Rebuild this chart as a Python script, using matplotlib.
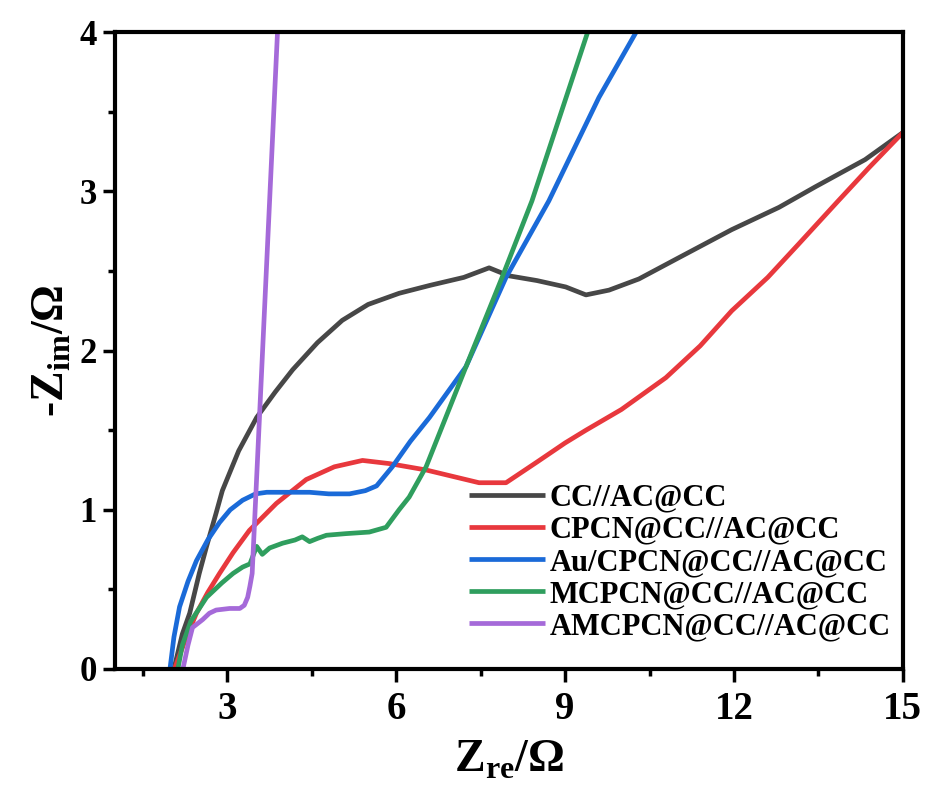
import matplotlib
matplotlib.use('Agg')
import matplotlib.pyplot as plt
from matplotlib.ticker import MultipleLocator

plt.rcParams['font.family'] = ['Liberation Serif', 'DejaVu Serif']
plt.rcParams['font.weight'] = 'bold'
plt.rcParams['mathtext.fontset'] = 'custom'
plt.rcParams['mathtext.rm'] = 'Liberation Serif:bold'
plt.rcParams['mathtext.bf'] = 'Liberation Serif:bold'

labels = ['CC//AC@CC', 'CPCN@CC//AC@CC', 'Au/CPCN@CC//AC@CC',
          'MCPCN@CC//AC@CC', 'AMCPCN@CC//AC@CC']
colors = ['#474747', '#e8383d', '#1a6ad8', '#2f9e5e', '#a56ad9']

# CC//AC@CC
x_cc = [2.05, 2.2, 2.33, 2.5, 2.63, 2.8, 2.91, 3.2, 3.52, 3.85, 4.16, 4.6, 5.04,
        5.5, 6.05, 6.6, 7.2, 7.65, 8.0, 8.5, 9.01, 9.37, 9.78, 10.31, 11.0,
        11.96, 12.8, 13.45, 14.33, 15.0]
y_cc = [0, 0.22, 0.35, 0.6, 0.77, 0.98, 1.12, 1.37, 1.58, 1.74, 1.88, 2.05, 2.19,
        2.29, 2.36, 2.41, 2.46, 2.52, 2.47, 2.44, 2.40, 2.35, 2.38, 2.45, 2.58,
        2.76, 2.90, 3.03, 3.20, 3.37]

# CPCN@CC//AC@CC
x_cp = [2.06, 2.25, 2.45, 2.65, 2.86, 3.1, 3.39, 3.87, 4.4, 4.9, 5.4, 5.88, 6.53,
        7.0, 7.47, 7.95, 8.5, 9.0, 9.37, 10.0, 10.79, 11.4, 11.96, 12.6, 13.15,
        13.85, 14.4, 15.0]
y_cp = [0, 0.18, 0.35, 0.48, 0.60, 0.73, 0.87, 1.04, 1.19, 1.27, 1.31, 1.29, 1.25,
        1.21, 1.17, 1.17, 1.30, 1.42, 1.50, 1.63, 1.83, 2.03, 2.25, 2.46, 2.67,
        2.94, 3.15, 3.37]

# Au/CPCN@CC//AC@CC
x_au = [1.98, 2.05, 2.15, 2.3, 2.45, 2.65, 2.86, 3.05, 3.27, 3.5, 3.7, 4.1, 4.46,
        4.8, 5.17, 5.45, 5.65, 5.93, 6.25, 6.59, 7.24, 7.95, 8.71, 9.6, 10.26]
y_au = [0, 0.2, 0.39, 0.55, 0.68, 0.81, 0.92, 1.0, 1.06, 1.10, 1.11, 1.11, 1.11,
        1.10, 1.10, 1.12, 1.15, 1.27, 1.43, 1.58, 1.90, 2.46, 2.94, 3.59, 4.0]

# MCPCN@CC//AC@CC
x_m = [2.12, 2.2, 2.35, 2.5, 2.63, 2.9, 3.1, 3.27, 3.4, 3.52, 3.62, 3.75, 3.98,
       4.2, 4.33, 4.46, 4.6, 4.76, 5.1, 5.52, 5.82, 6.05, 6.23, 6.53, 7.24, 7.88,
       8.41, 9.4]
y_m = [0, 0.15, 0.30, 0.38, 0.45, 0.54, 0.60, 0.64, 0.66, 0.77, 0.72, 0.76, 0.79,
       0.81, 0.83, 0.80, 0.82, 0.84, 0.85, 0.86, 0.89, 1.0, 1.08, 1.27, 1.90, 2.46,
       2.94, 4.0]

# AMCPCN@CC//AC@CC
x_am = [2.21, 2.3, 2.38, 2.56, 2.68, 2.8, 3.04, 3.22, 3.3, 3.36, 3.40, 3.44, 3.89]
y_am = [0, 0.15, 0.26, 0.31, 0.35, 0.37, 0.38, 0.38, 0.40, 0.45, 0.52, 0.6, 4.0]

series = [(x_cc, y_cc), (x_cp, y_cp), (x_au, y_au), (x_m, y_m), (x_am, y_am)]

fig = plt.figure(figsize=(9.26, 7.87), dpi=100)
ax = fig.add_axes([0.124, 0.15, 0.851, 0.809])

for (xs, ys), c, lab in zip(series, colors, labels):
    ax.plot(xs, ys, color=c, lw=3.4, label=lab, solid_capstyle='butt')

ax.set_xlim(1, 15)
ax.set_ylim(0, 4)
ax.xaxis.set_major_locator(MultipleLocator(3))
ax.xaxis.set_minor_locator(MultipleLocator(1.5))
ax.yaxis.set_major_locator(MultipleLocator(1))
ax.yaxis.set_minor_locator(MultipleLocator(0.5))
ax.tick_params(which='major', direction='out', length=9, width=2.5)
ax.tick_params(which='minor', direction='out', length=5, width=2.5)
ax.tick_params(axis='x', labelsize=28, pad=7)
ax.tick_params(axis='y', labelsize=25, pad=4)
for s in ax.spines.values():
    s.set_linewidth(3)

ax.set_xlabel('Z$_{\\mathregular{re}}$/Ω', fontsize=33, fontweight='bold', labelpad=8)
ax.set_ylabel('-Z$_{\\mathregular{im}}$/Ω', fontsize=33, fontweight='bold', labelpad=4)

ax.legend(loc='lower right', bbox_to_anchor=(1.008, 0.015), frameon=False,
          prop={'size': 22, 'weight': 'bold'}, handlelength=2.5,
          handletextpad=0.15, labelspacing=0.1, borderaxespad=0.2)

fig.savefig('out.png', dpi=100)
